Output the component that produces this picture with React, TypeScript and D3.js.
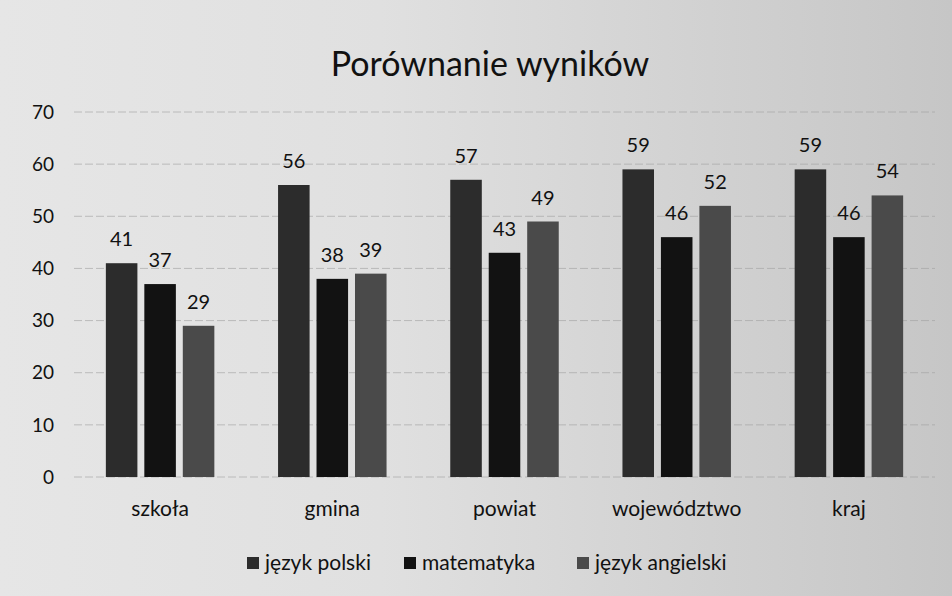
import React from 'react';
import * as d3 from 'd3';

const categories = ['szkoła', 'gmina', 'powiat', 'województwo', 'kraj'];
const seriesNames = ['język polski', 'matematyka', 'język angielski'];
const polski = [41, 56, 57, 59, 59];
const matematyka = [37, 38, 43, 46, 46];
const angielski = [29, 39, 49, 52, 54];
const yTicks = [0, 10, 20, 30, 40, 50, 60, 70];

const colors = ['#2c2c2c', '#121212', '#4a4a4a'];
const font = 'Lato, "Open Sans", sans-serif';

const App: React.FC = () => {
  const width = 952;
  const height = 596;
  const series = [polski, matematyka, angielski];

  const x0 = d3.scaleBand<string>()
    .domain(categories)
    .range([74, 935])
    .paddingInner(0.37)
    .paddingOuter(0.185);

  const x1 = d3.scaleBand<number>()
    .domain([0, 1, 2])
    .range([0, x0.bandwidth()])
    .paddingInner(0.18);

  const y = d3.scaleLinear().domain([0, 70]).range([477, 112]);

  const legendX = [247, 404, 577];

  return (
    <svg width={width} height={height} style={{ position: 'absolute', left: 0, top: 0 }}>
      <defs>
        <linearGradient id="bg" x1="0" x2="1" y1="0" y2="0">
          <stop offset="0" stopColor="#e6e6e6" />
          <stop offset="0.4" stopColor="#e0e0e0" />
          <stop offset="1" stopColor="#c6c6c6" />
        </linearGradient>
      </defs>
      <rect width={width} height={height} fill="url(#bg)" />

      {/* Gridlines */}
      {yTicks.map(t => (
        <line key={t} x1={74} x2={935} y1={y(t)} y2={y(t)} stroke="#a0a0a0" strokeWidth={1} strokeDasharray="8 3" opacity={0.6} />
      ))}

      {/* Y tick labels */}
      {yTicks.map(t => (
        <text key={t} x={54} y={y(t)} dy="0.35em" textAnchor="end" fontFamily={font} fontSize={19} fill="#111">
          {t}
        </text>
      ))}

      <text x={490} y={76} textAnchor="middle" fontFamily={font} fontSize={34} fill="#111">
        Porównanie wyników
      </text>

      {/* Bars */}
      {categories.map((c, ci) => (
        <g key={c} transform={`translate(${x0(c)},0)`}>
          {series.map((s, si) => (
            <g key={si}>
              <rect
                x={x1(si)}
                y={y(s[ci])}
                width={x1.bandwidth()}
                height={y(0) - y(s[ci])}
                fill={colors[si]}
              />
              <text
                x={x1(si)! + x1.bandwidth() / 2}
                y={y(s[ci]) - 17}
                textAnchor="middle"
                fontFamily={font}
                fontSize={20}
                fill="#111"
              >
                {s[ci]}
              </text>
            </g>
          ))}
          <text
            x={x0.bandwidth() / 2}
            y={516}
            textAnchor="middle"
            fontFamily={font}
            fontSize={21}
            fill="#111"
          >
            {c}
          </text>
        </g>
      ))}

      {/* Legend */}
      {seriesNames.map((n, i) => (
        <g key={n} transform={`translate(${legendX[i]},563)`}>
          <rect x={0} y={-6} width={12} height={12} fill={colors[i]} />
          <text x={18} y={0} dy="0.35em" fontFamily={font} fontSize={21} fill="#111">
            {n}
          </text>
        </g>
      ))}
    </svg>
  );
};

export default App;
